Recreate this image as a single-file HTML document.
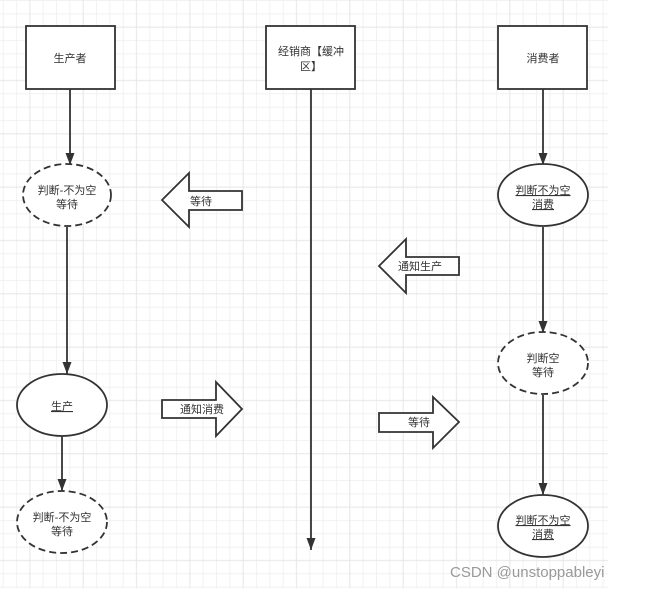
<!DOCTYPE html>
<html><head><meta charset="utf-8"><style>
html,body{margin:0;padding:0;background:#fff;}
svg{display:block;}
text{font-family:"Liberation Sans","Noto Sans CJK SC",sans-serif;font-size:11px;fill:#333;}
</style></head><body>
<svg width="648" height="590" viewBox="0 0 648 590" xmlns="http://www.w3.org/2000/svg">
<defs>
<pattern id="g" x="2.7" y="0" width="53.33" height="53.33" patternUnits="userSpaceOnUse">
<path d="M0.5 0V53.33M13.83 0V53.33M40.5 0V53.33M0 0.5H53.33M0 13.83H53.33M0 40.5H53.33" stroke="#f1f1f1" stroke-width="1" fill="none"/>
<path d="M27.17 0V53.33M0 27.17H53.33" stroke="#e6e6e6" stroke-width="1" fill="none"/>
</pattern>
<marker id="a" markerWidth="14" markerHeight="10" refX="12" refY="5" orient="auto" markerUnits="userSpaceOnUse">
<path d="M0 0.5L12 5L0 9.5Z" fill="#333"/>
</marker>
</defs>
<rect x="0" y="0" width="608" height="588" fill="url(#g)"/>
<g stroke="#333" stroke-width="1.8" fill="#fff">
<rect x="26" y="26" width="89" height="63"/>
<rect x="266" y="26" width="89" height="63"/>
<rect x="498" y="26" width="89" height="63"/>
</g>
<g stroke="#333" stroke-width="1.8" fill="none">
<line x1="70" y1="89" x2="70" y2="165" marker-end="url(#a)"/>
<line x1="67" y1="227" x2="67" y2="374" marker-end="url(#a)"/>
<line x1="62" y1="436" x2="62" y2="491" marker-end="url(#a)"/>
<line x1="311" y1="89" x2="311" y2="550" marker-end="url(#a)"/>
<line x1="543" y1="89" x2="543" y2="165" marker-end="url(#a)"/>
<line x1="543" y1="227" x2="543" y2="333" marker-end="url(#a)"/>
<line x1="543" y1="395" x2="543" y2="495" marker-end="url(#a)"/>
</g>
<g stroke="#333" stroke-width="1.8" fill="#fff">
<ellipse cx="67" cy="195" rx="44" ry="31" stroke-dasharray="7,4"/>
<ellipse cx="62" cy="405" rx="45" ry="31"/>
<ellipse cx="62" cy="522" rx="45" ry="31" stroke-dasharray="7,4"/>
<ellipse cx="543" cy="195" rx="45" ry="31"/>
<ellipse cx="543" cy="363" rx="45" ry="31" stroke-dasharray="7,4"/>
<ellipse cx="543" cy="526" rx="45" ry="31"/>
<path d="M162 200L189 173V191H242V210H189V227Z"/>
<path d="M379 266L406 239V257H459V275H406V293Z"/>
<path d="M162 400H216V382L242 409L216 436V418H162Z"/>
<path d="M379 413H433V397L459 422L433 448V432H379Z"/>
</g>
<g text-anchor="middle">
<text x="70" y="62">生产者</text>
<text x="311" y="55">经销商【缓冲</text>
<text x="311" y="70">区】</text>
<text x="543" y="62">消费者</text>
<text x="67" y="194">判断-不为空</text>
<text x="67" y="208">等待</text>
<text x="201" y="205">等待</text>
<text x="543" y="194" text-decoration="underline">判断不为空</text>
<text x="543" y="208" text-decoration="underline">消费</text>
<text x="420" y="270">通知生产</text>
<text x="62" y="410" text-decoration="underline">生产</text>
<text x="202" y="413">通知消费</text>
<text x="419" y="426">等待</text>
<text x="543" y="362">判断空</text>
<text x="543" y="376">等待</text>
<text x="62" y="521">判断-不为空</text>
<text x="62" y="535">等待</text>
<text x="543" y="524" text-decoration="underline">判断不为空</text>
<text x="543" y="538" text-decoration="underline">消费</text>
</g>
<text x="450" y="577" style="font-size:15px;fill:#999;">CSDN @unstoppableyi</text>
</svg>
</body></html>
